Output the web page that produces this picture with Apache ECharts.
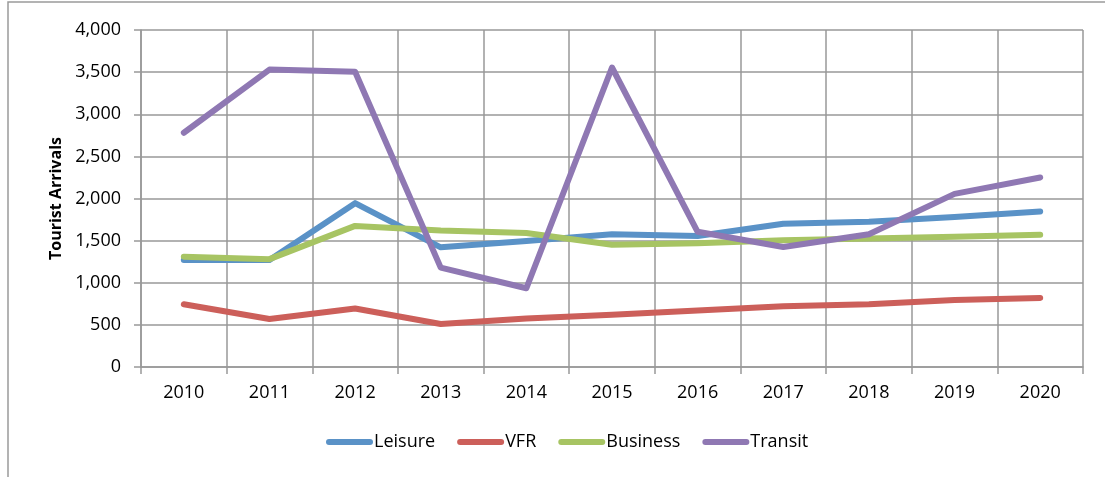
<!DOCTYPE html>
<html>
<head>
<meta charset="utf-8">
<script src="https://cdn.jsdelivr.net/npm/echarts@6/dist/echarts.min.js"></script>
<style>
  html, body { margin: 0; padding: 0; background: #fff; }
  #chart { width: 1105px; height: 477px; }
</style>
</head>
<body>
<div id="chart"></div>
<script>
var years = ['2010', '2011', '2012', '2013', '2014', '2015', '2016', '2017', '2018', '2019', '2020'];
var leisure = [1270, 1270, 1945, 1420, 1495, 1575, 1555, 1700, 1725, 1780, 1845];
var vfr = [745, 570, 695, 510, 575, 620, 670, 720, 745, 795, 820];
var business = [1310, 1280, 1675, 1620, 1590, 1450, 1470, 1505, 1525, 1545, 1570];
var transit = [2780, 3530, 3505, 1180, 935, 3555, 1605, 1425, 1575, 2055, 2250];

var fontFam = 'Open Sans';
var pillIcon = 'path://M3,0 L44,0 A3,3 0 0 1 44,6 L3,6 A3,3 0 0 1 3,0 Z';

function mkSeries(name, data, color) {
    return {
        name: name,
        type: 'line',
        data: data,
        symbol: 'none',
        lineStyle: { width: 6, color: color, cap: 'round', join: 'round' },
        itemStyle: { color: color }
    };
}

var chart = echarts.init(document.getElementById('chart'));
var option = {
    animation: false,
    textStyle: { fontFamily: fontFam },
    graphic: [{
        type: 'rect',
        shape: { x: 8, y: 2, width: 1200, height: 600 },
        style: { fill: 'none', stroke: '#9a9a9a', lineWidth: 1.5 },
        silent: true
    }],
    grid: { left: 141, top: 30, right: 22, bottom: 110 },
    legend: {
        bottom: 21,
        left: 321,
        itemWidth: 47,
        itemHeight: 6,
        itemGap: 22,
        icon: pillIcon,
        textStyle: { fontSize: 18, color: '#000', fontFamily: fontFam, padding: [0, 0, 0, -4] },
        data: ['Leisure', 'VFR', 'Business', 'Transit']
    },
    xAxis: {
        type: 'category',
        data: years,
        boundaryGap: true,
        axisLine: { lineStyle: { color: '#999', width: 1.5 } },
        axisTick: { show: true, length: 7, lineStyle: { color: '#999', width: 1.5 } },
        axisLabel: { fontSize: 18, color: '#000', margin: 17 },
        splitLine: { show: true, lineStyle: { color: '#999', width: 1.5 } }
    },
    yAxis: {
        type: 'value',
        min: 0,
        max: 4000,
        interval: 500,
        name: 'Tourist Arrivals',
        nameLocation: 'middle',
        nameGap: 76,
        nameTextStyle: { fontSize: 16, fontWeight: 'bold', color: '#000' },
        axisLine: { show: true, lineStyle: { color: '#999', width: 1.5 } },
        axisTick: { show: true, length: 7, lineStyle: { color: '#999', width: 1.5 } },
        axisLabel: {
            fontSize: 18, color: '#000', margin: 20,
            formatter: function (v) { return v.toLocaleString('en-US'); }
        },
        splitLine: { lineStyle: { color: '#999', width: 1.5 } }
    },
    series: [
        mkSeries('Leisure', leisure, '#5a92c7'),
        mkSeries('VFR', vfr, '#cc5f5a'),
        mkSeries('Business', business, '#a7c463'),
        mkSeries('Transit', transit, '#8f78b3')
    ]
};
chart.setOption(option);
</script>
</body>
</html>
